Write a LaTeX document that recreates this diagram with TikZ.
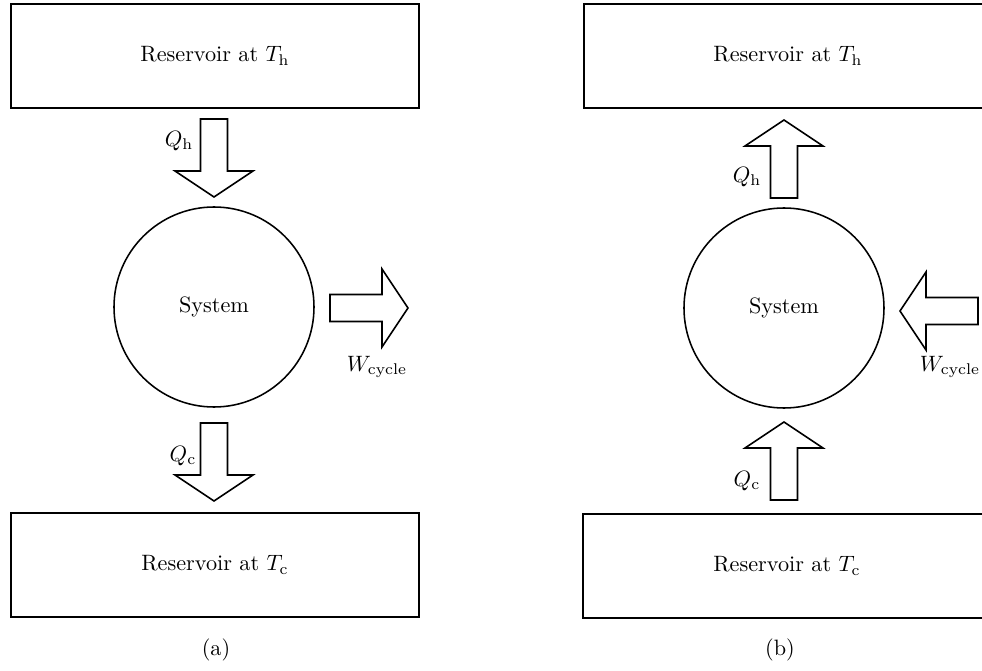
\documentclass[tikz,border=0pt]{standalone}
\usetikzlibrary{positioning}
\begin{document}
\begin{tikzpicture}[
    x=0.45pt, y=-0.45pt,
    reservoir/.style={rectangle, draw, line width=0.9pt, minimum width=184pt, minimum height=47pt, font=\normalsize},
    system/.style={circle, draw, line width=0.7pt, minimum size=90pt},
    lbl/.style={inner sep=1pt},
    flow/.pic={\draw[line width=0.7pt, line join=miter]
        (0,-13.5) -- (52,-13.5) -- (52,-39) -- (78,0) -- (52,39) -- (52,13.5) -- (0,13.5) -- cycle;},
]
\useasboundingbox (0,0) rectangle (982,671);
\clip (0,0) rectangle (982,671);
% (a) heat engine
\node[reservoir] (hota) at (215,56) {Reservoir at $T_{\mathrm{h}}$};
\node[system] (sysa) at (214,307) {System};
\node[reservoir] (colda) at (215,565) {Reservoir at $T_{\mathrm{c}}$};
\pic[rotate=-90] (qha) at (214,119) {flow};
\pic (wa) at (330,308) {flow};
\pic[rotate=-90] (qca) at (214,423) {flow};
\node[lbl] (qhlabela) at (179,141) {$Q_{\mathrm{h}}$};
\node[lbl] (wlabela) at (377,367) {$W_{\mathrm{cycle}}$};
\node[lbl] (qclabela) at (183,456) {$Q_{\mathrm{c}}$};
\node (capa) at (216,650) {(a)};
% (b) refrigerator
\node[reservoir] (hotb) at (788,56) {Reservoir at $T_{\mathrm{h}}$};
\node[system] (sysb) at (784,308) {System};
\node[reservoir] (coldb) at (787,566) {Reservoir at $T_{\mathrm{c}}$};
\pic[rotate=90] (qhb) at (784,198) {flow};
\pic[rotate=180] (wb) at (978,311) {flow};
\pic[rotate=90] (qcb) at (784,500) {flow};
\node[lbl] (qhlabelb) at (747,177) {$Q_{\mathrm{h}}$};
\node[lbl] (wlabelb) at (950,367) {$W_{\mathrm{cycle}}$};
\node[lbl] (qclabelb) at (747,481) {$Q_{\mathrm{c}}$};
\node (capb) at (780,650) {(b)};
\end{tikzpicture}
\end{document}
